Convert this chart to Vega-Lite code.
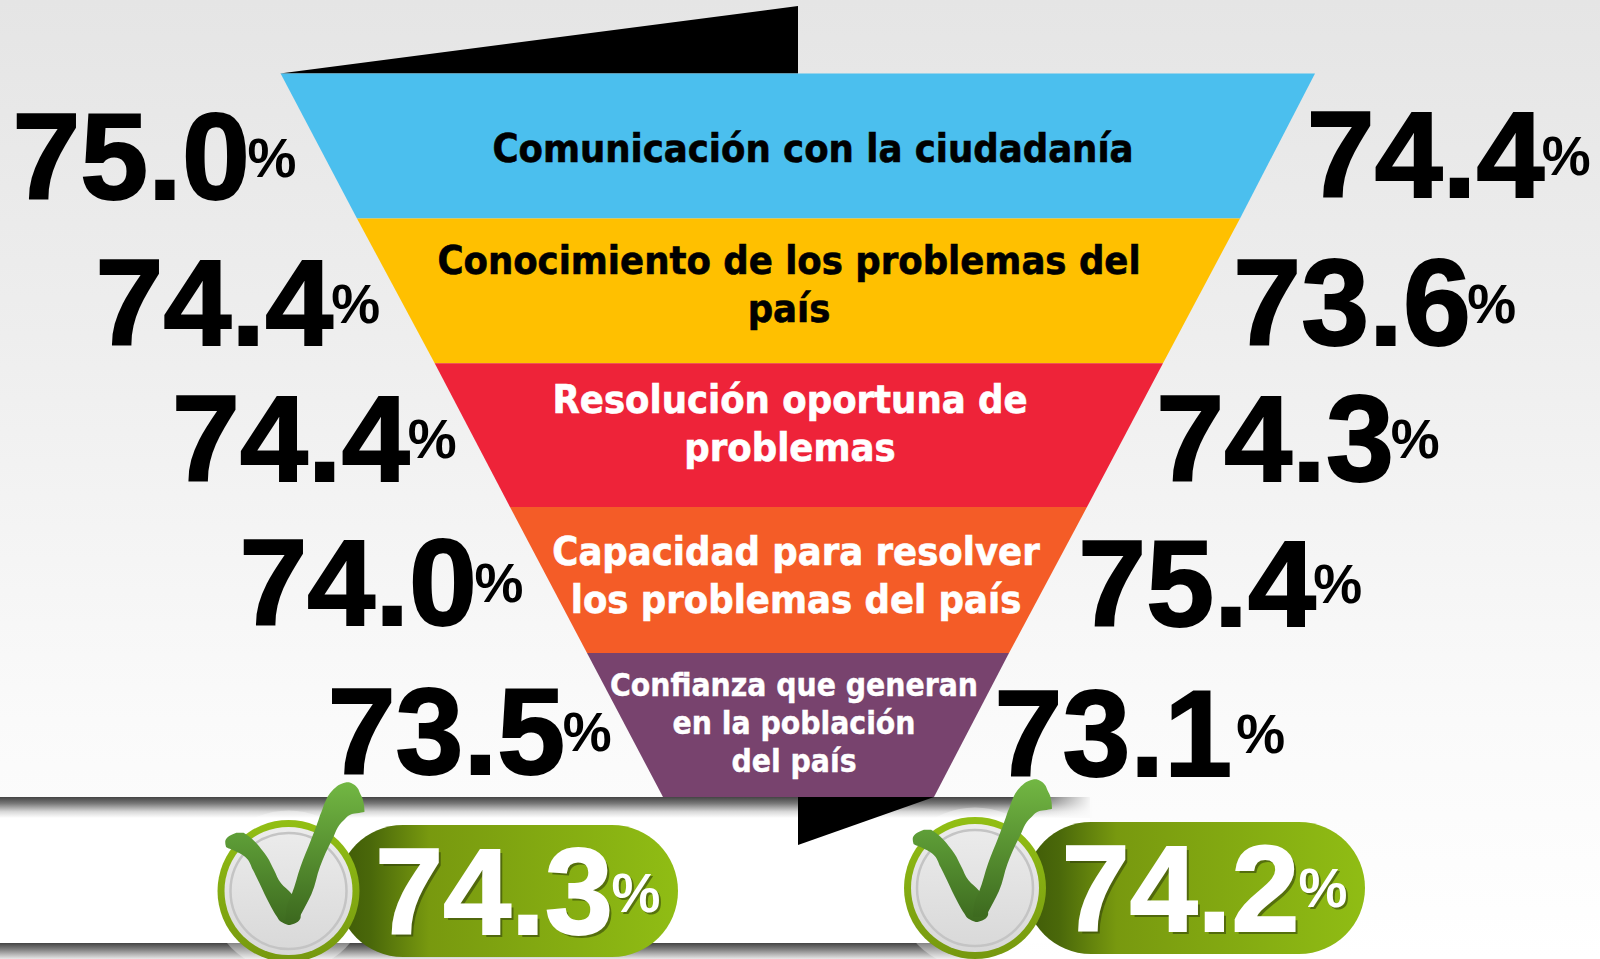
{"$schema":"https://vega.github.io/schema/vega-lite/v6.json","width":1600,"height":959,"autosize":{"type":"none"},"padding":0,"background":"white","view":{"stroke":null},
"datasets":{
"page":[{"x":0,"x2":1600,"y":0,"y2":959}],
"shadowTop":[{"x":0,"x2":1090,"y":797,"y2":818}],
"shadowFade":[{"x":1030,"x2":1092,"y":797,"y2":818}],
"whiteBand":[{"x":0,"x2":1090,"y":818,"y2":943}],
"shadowBottom":[{"x":0,"x2":975,"y":943,"y2":959}],
"wedgeTop":[{"x":280,"y":73.5,"y2":73.5},{"x":798,"y":6,"y2":73.5}],
"wedgeBottom":[{"x":798,"y":797,"y2":845},{"x":934,"y":797,"y2":797}],
"funnel":[
{"band":"Comunicación","y":73.5,"x":280.6,"x2":1315},{"band":"Comunicación","y":218.4,"x":357,"x2":1240},
{"band":"Conocimiento","y":218.4,"x":357,"x2":1240},{"band":"Conocimiento","y":363.3,"x":434.7,"x2":1163},
{"band":"Resolución","y":363.3,"x":434.7,"x2":1163},{"band":"Resolución","y":507,"x":510,"x2":1087},
{"band":"Capacidad","y":507,"x":510,"x2":1087},{"band":"Capacidad","y":653,"x":587,"x2":1009},
{"band":"Confianza","y":653,"x":587,"x2":1009},{"band":"Confianza","y":797,"x":663,"x2":934}],
"pill1":[{"x":337,"x2":678,"y":825,"y2":957}],
"pill2":[{"x":1025,"x2":1365,"y":822,"y2":954}],
"medals":[{"x":288.5,"y":891},{"x":975,"y":888}],
"checkLeft":[
{"check":"A","y":832.7,"x":236.4,"x2":243.6},{"check":"A","y":836.7,"x":228.2,"x2":249.5},{"check":"A","y":841.7,"x":225.2,"x2":255},{"check":"A","y":846.7,"x":226,"x2":259.5},{"check":"A","y":850,"x":233,"x2":262},{"check":"A","y":856.7,"x":245,"x2":267},{"check":"A","y":870,"x":253,"x2":274},{"check":"A","y":883.3,"x":259.5,"x2":281},{"check":"A","y":894,"x":264.5,"x2":291.8},{"check":"A","y":906.7,"x":271,"x2":299.6},{"check":"A","y":916.7,"x":277,"x2":300.7},{"check":"A","y":921.7,"x":281,"x2":297.9},{"check":"A","y":925,"x":288.2,"x2":290},
{"check":"B","y":829.7,"x":923.9,"x2":931.1},{"check":"B","y":833.7,"x":915.7,"x2":937},{"check":"B","y":838.7,"x":912.7,"x2":942.5},{"check":"B","y":843.7,"x":913.5,"x2":947},{"check":"B","y":847,"x":920.5,"x2":949.5},{"check":"B","y":853.7,"x":932.5,"x2":954.5},{"check":"B","y":867,"x":940.5,"x2":961.5},{"check":"B","y":880.3,"x":947,"x2":968.5},{"check":"B","y":891,"x":952,"x2":979.3},{"check":"B","y":903.7,"x":958.5,"x2":987.1},{"check":"B","y":913.7,"x":964.5,"x2":988.2},{"check":"B","y":918.7,"x":968.5,"x2":985.4},{"check":"B","y":922,"x":975.7,"x2":977.5}],
"checkRight":[
{"check":"A","y":782.3,"x":346.5,"x2":349},{"check":"A","y":784,"x":341,"x2":353},{"check":"A","y":788,"x":335,"x2":357.5},{"check":"A","y":793.3,"x":330,"x2":360},{"check":"A","y":800,"x":326,"x2":363},{"check":"A","y":811.7,"x":321.5,"x2":364.5},{"check":"A","y":814,"x":320.5,"x2":352},{"check":"A","y":820,"x":318.5,"x2":344},{"check":"A","y":840,"x":311,"x2":332},{"check":"A","y":866.7,"x":300.5,"x2":320},{"check":"A","y":894,"x":291.8,"x2":311.5},{"check":"A","y":905,"x":287.1,"x2":306},{"check":"A","y":920,"x":285.4,"x2":297.9},
{"check":"B","y":779.3,"x":1034,"x2":1036.5},{"check":"B","y":781,"x":1028.5,"x2":1040.5},{"check":"B","y":785,"x":1022.5,"x2":1045},{"check":"B","y":790.3,"x":1017.5,"x2":1047.5},{"check":"B","y":797,"x":1013.5,"x2":1050.5},{"check":"B","y":808.7,"x":1009,"x2":1052},{"check":"B","y":811,"x":1008,"x2":1039.5},{"check":"B","y":817,"x":1006,"x2":1031.5},{"check":"B","y":837,"x":998.5,"x2":1019.5},{"check":"B","y":863.7,"x":988,"x2":1007.5},{"check":"B","y":891,"x":979.3,"x2":999},{"check":"B","y":902,"x":974.6,"x2":993.5},{"check":"B","y":917,"x":972.9,"x2":985.4}],
"bigValues":[
{"group":"izquierda","value":"75.0","x":131.1,"y":199},{"group":"izquierda","value":"74.4","x":214.3,"y":345},{"group":"izquierda","value":"74.4","x":290.8,"y":480.7},{"group":"izquierda","value":"74.0","x":358.2,"y":624.5},{"group":"izquierda","value":"73.5","x":446.4,"y":773.5},
{"group":"derecha","value":"74.4","x":1425.5,"y":197},{"group":"derecha","value":"73.6","x":1352,"y":345},{"group":"derecha","value":"74.3","x":1275,"y":480.7},{"group":"derecha","value":"75.4","x":1197,"y":625.5},{"group":"derecha","value":"73.1","x":1113.3,"y":775.5}],
"bigPct":[
{"label":"%","x":272,"y":177},{"label":"%","x":355.6,"y":323},{"label":"%","x":432.1,"y":458},{"label":"%","x":499,"y":602},{"label":"%","x":587.2,"y":751},
{"label":"%","x":1566.3,"y":175},{"label":"%","x":1491.8,"y":323},{"label":"%","x":1415.3,"y":458},{"label":"%","x":1337.8,"y":603},{"label":"%","x":1260.7,"y":753}],
"totals":[{"value":"74.3","x":494,"y":934},{"value":"74.2","x":1180.5,"y":931}],
"totalPct":[{"label":"%","x":636,"y":911.7},{"label":"%","x":1323,"y":906.7}],
"labelsDark":[{"line":"Comunicación con la ciudadanía","x":813,"y":161.5},{"line":"Conocimiento de los problemas del","x":789,"y":274},{"line":"país","x":789,"y":322}],
"labelsLight":[{"line":"Resolución oportuna de","x":790,"y":413},{"line":"problemas","x":790,"y":461},{"line":"Capacidad para resolver","x":796,"y":565},{"line":"los problemas del país","x":796,"y":613}],
"labelsSmall":[{"line":"Confianza que generan","x":794,"y":696},{"line":"en la población","x":794,"y":734},{"line":"del país","x":794,"y":772}]
},
"encoding":{"x":{"field":"x","type":"quantitative","scale":{"domain":[0,1600],"nice":false,"zero":false},"axis":null},"y":{"field":"y","type":"quantitative","scale":{"domain":[959,0],"nice":false,"zero":false},"axis":null}},
"layer":[
{"data":{"name":"page"},"mark":{"type":"rect","color":{"gradient":"linear","x1":0,"y1":0,"x2":0,"y2":1,"stops":[{"offset":0,"color":"#e5e5e5"},{"offset":0.35,"color":"#eeeeee"},{"offset":0.75,"color":"#fafafa"},{"offset":1,"color":"#ffffff"}]}},"encoding":{"x2":{"field":"x2"},"y2":{"field":"y2"}}},
{"data":{"name":"whiteBand"},"mark":{"type":"rect","color":"#ffffff"},"encoding":{"x2":{"field":"x2"},"y2":{"field":"y2"}}},
{"data":{"name":"shadowTop"},"mark":{"type":"rect","color":{"gradient":"linear","x1":0,"y1":0,"x2":0,"y2":1,"stops":[{"offset":0,"color":"#444444"},{"offset":0.3,"color":"#777777"},{"offset":0.7,"color":"#d8d8d8"},{"offset":1,"color":"#ffffff"}]}},"encoding":{"x2":{"field":"x2"},"y2":{"field":"y2"}}},
{"data":{"name":"shadowFade"},"mark":{"type":"rect","color":{"gradient":"linear","x1":0,"y1":0,"x2":1,"y2":0,"stops":[{"offset":0,"color":"rgba(251,251,251,0)"},{"offset":1,"color":"rgba(251,251,251,1)"}]}},"encoding":{"x2":{"field":"x2"},"y2":{"field":"y2"}}},
{"data":{"name":"shadowBottom"},"mark":{"type":"rect","color":{"gradient":"linear","x1":0,"y1":0,"x2":0,"y2":1,"stops":[{"offset":0,"color":"#444444"},{"offset":0.4,"color":"#808080"},{"offset":1,"color":"#e8e8e8"}]}},"encoding":{"x2":{"field":"x2"},"y2":{"field":"y2"}}},
{"data":{"name":"wedgeTop"},"mark":{"type":"area","orient":"vertical","color":"#000000"},"encoding":{"y2":{"field":"y2"}}},
{"data":{"name":"wedgeBottom"},"mark":{"type":"area","orient":"vertical","color":"#000000"},"encoding":{"y2":{"field":"y2"}}},
{"data":{"name":"funnel"},"mark":{"type":"area","orient":"horizontal"},"encoding":{"x2":{"field":"x2"},"color":{"field":"band","type":"nominal","legend":null,"scale":{"domain":["Comunicación","Conocimiento","Resolución","Capacidad","Confianza"],"range":["#4bbfee","#ffc000","#ee2339","#f45c27","#78436e"]}}}},
{"data":{"name":"medals"},"mark":{"type":"circle","size":26000,"opacity":0.35,"color":"#ffffff"}},
{"data":{"name":"pill1"},"mark":{"type":"rect","cornerRadius":66,"color":{"gradient":"linear","x1":0,"y1":0,"x2":1,"y2":0,"stops":[{"offset":0,"color":"#3f5a08"},{"offset":0.1,"color":"#4a680a"},{"offset":0.27,"color":"#78990f"},{"offset":1,"color":"#90bd14"}]}},"encoding":{"x2":{"field":"x2"},"y2":{"field":"y2"}}},
{"data":{"name":"pill2"},"mark":{"type":"rect","cornerRadius":66,"color":{"gradient":"linear","x1":0,"y1":0,"x2":1,"y2":0,"stops":[{"offset":0,"color":"#3f5a08"},{"offset":0.1,"color":"#4a680a"},{"offset":0.27,"color":"#78990f"},{"offset":1,"color":"#90bd14"}]}},"encoding":{"x2":{"field":"x2"},"y2":{"field":"y2"}}},
{"data":{"name":"medals"},"mark":{"type":"circle","size":20164,"opacity":1,"color":{"gradient":"linear","x1":0,"y1":0,"x2":0,"y2":1,"stops":[{"offset":0,"color":"#92bf14"},{"offset":1,"color":"#76980f"}]}}},
{"data":{"name":"medals"},"mark":{"type":"circle","size":16384,"opacity":1,"color":{"gradient":"linear","x1":0,"y1":0,"x2":0,"y2":1,"stops":[{"offset":0,"color":"#ececec"},{"offset":1,"color":"#d8d8d8"}]}}},
{"data":{"name":"medals"},"mark":{"type":"point","shape":"circle","size":13456,"filled":false,"stroke":"#c4c4c4","strokeWidth":2.5,"opacity":1}},
{"data":{"name":"checkLeft"},"mark":{"type":"area","orient":"horizontal","interpolate":"monotone","color":{"gradient":"linear","x1":0,"y1":0,"x2":0,"y2":1,"stops":[{"offset":0,"color":"#5f9f38"},{"offset":1,"color":"#3d6a1f"}]}},"encoding":{"x2":{"field":"x2"},"detail":{"field":"check"}}},
{"data":{"name":"checkRight"},"mark":{"type":"area","orient":"horizontal","interpolate":"monotone","color":{"gradient":"linear","x1":0,"y1":0,"x2":0,"y2":1,"stops":[{"offset":0,"color":"#72b743"},{"offset":1,"color":"#3d6a1f"}]}},"encoding":{"x2":{"field":"x2"},"detail":{"field":"check"}}},
{"data":{"name":"bigValues"},"mark":{"type":"text","font":"Liberation Sans","fontWeight":"bold","fontSize":122,"align":"center","baseline":"alphabetic","color":"#000000","stroke":"#000000","strokeWidth":2},"encoding":{"text":{"field":"value"}}},
{"data":{"name":"bigPct"},"mark":{"type":"text","font":"Liberation Sans","fontWeight":"bold","fontSize":55,"align":"center","baseline":"alphabetic","color":"#000000"},"encoding":{"text":{"field":"label"}}},
{"data":{"name":"totals"},"mark":{"type":"text","font":"Liberation Sans","fontWeight":"bold","fontSize":122,"align":"center","baseline":"alphabetic","color":"#34440a","opacity":0.6,"dx":3,"dy":3},"encoding":{"text":{"field":"value"}}},
{"data":{"name":"totalPct"},"mark":{"type":"text","font":"Liberation Sans","fontWeight":"bold","fontSize":55,"align":"center","baseline":"alphabetic","color":"#34440a","opacity":0.6,"dx":2,"dy":2},"encoding":{"text":{"field":"label"}}},
{"data":{"name":"totals"},"mark":{"type":"text","font":"Liberation Sans","fontWeight":"bold","fontSize":122,"align":"center","baseline":"alphabetic","color":"#ffffff","stroke":"#ffffff","strokeWidth":2},"encoding":{"text":{"field":"value"}}},
{"data":{"name":"totalPct"},"mark":{"type":"text","font":"Liberation Sans","fontWeight":"bold","fontSize":55,"align":"center","baseline":"alphabetic","color":"#ffffff"},"encoding":{"text":{"field":"label"}}},
{"data":{"name":"labelsDark"},"mark":{"type":"text","font":"DejaVu Sans Condensed","fontWeight":"bold","fontSize":39.5,"align":"center","baseline":"alphabetic","color":"#000000","stroke":"#000000","strokeWidth":0.6},"encoding":{"text":{"field":"line"}}},
{"data":{"name":"labelsLight"},"mark":{"type":"text","font":"DejaVu Sans Condensed","fontWeight":"bold","fontSize":39.5,"align":"center","baseline":"alphabetic","color":"#ffffff","stroke":"#ffffff","strokeWidth":0.6},"encoding":{"text":{"field":"line"}}},
{"data":{"name":"labelsSmall"},"mark":{"type":"text","font":"DejaVu Sans Condensed","fontWeight":"bold","fontSize":31.5,"align":"center","baseline":"alphabetic","color":"#ffffff","stroke":"#ffffff","strokeWidth":0.4},"encoding":{"text":{"field":"line"}}}
]}
